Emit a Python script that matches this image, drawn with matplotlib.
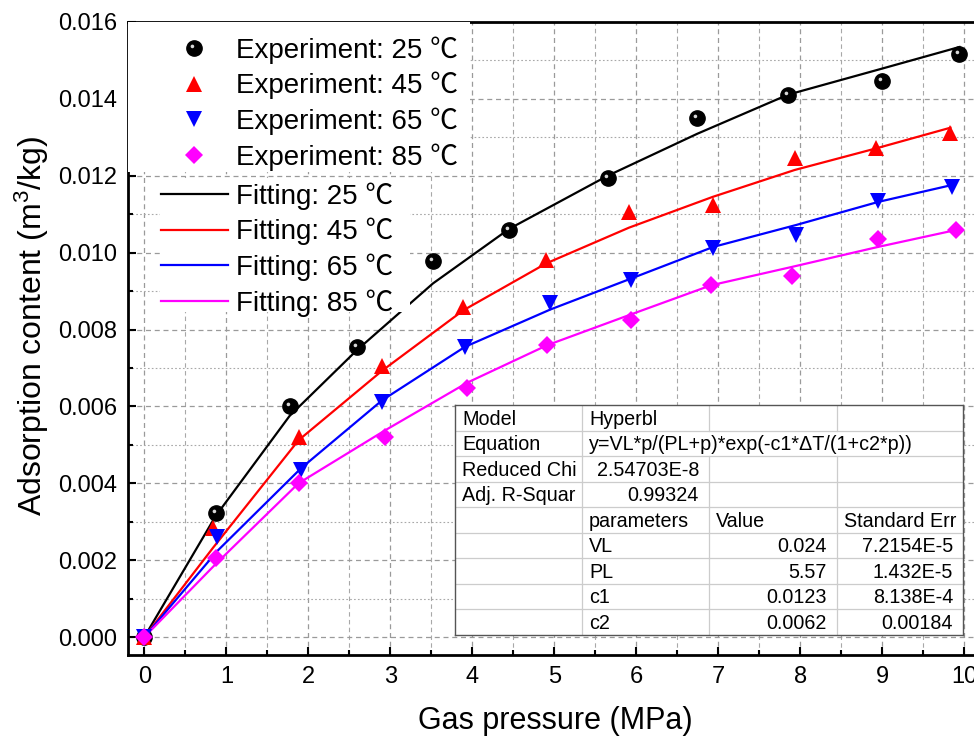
import matplotlib
matplotlib.use("Agg")
import matplotlib.pyplot as plt
import matplotlib.patches as mpatches
from matplotlib.lines import Line2D
from matplotlib.path import Path
from matplotlib.ticker import MultipleLocator, FormatStrFormatter
from matplotlib.legend_handler import HandlerTuple

plt.rcParams['font.family'] = ['Liberation Sans', 'Noto Sans CJK SC', 'DejaVu Sans']
plt.rcParams['mathtext.fontset'] = 'custom'
plt.rcParams['mathtext.rm'] = 'Liberation Sans'
plt.rcParams['mathtext.it'] = 'Liberation Sans:italic'

# experimental data (pressure in MPa, adsorption in m3/kg)
p25 = [0, 0.87, 1.77, 2.59, 3.52, 4.45, 5.65, 6.74, 7.85, 9.0, 9.94]
q25 = [0, 0.00322, 0.0060, 0.00755, 0.00978, 0.0106, 0.01194, 0.01351, 0.01411, 0.01446, 0.01518]
p45 = [0, 0.84, 1.88, 2.9, 3.89, 4.9, 5.91, 6.93, 7.93, 8.92, 9.83]
q45 = [0, 0.00283, 0.00521, 0.00705, 0.00859, 0.0098, 0.01106, 0.01124, 0.01245, 0.01271, 0.01311]
p65 = [0, 0.89, 1.91, 2.9, 3.91, 4.95, 5.94, 6.94, 7.95, 8.95, 9.85]
q65 = [0, 0.0026, 0.00434, 0.00612, 0.00755, 0.00868, 0.00928, 0.01012, 0.01046, 0.01135, 0.01171]
p85 = [0, 0.87, 1.88, 2.93, 3.94, 4.91, 5.93, 6.91, 7.9, 8.95, 9.9]
q85 = [0, 0.00205, 0.0040, 0.00521, 0.00649, 0.00759, 0.00826, 0.00915, 0.00939, 0.01035, 0.01059]

# fitted values at the same pressures
f25 = [0, 0.00315, 0.00575, 0.00746, 0.0092, 0.01062, 0.0120, 0.01309, 0.01411, 0.01479, 0.01535]
f45 = [0, 0.00233, 0.00512, 0.00693, 0.0085, 0.00972, 0.01065, 0.01145, 0.01215, 0.01271, 0.01325]
f65 = [0, 0.00224, 0.00439, 0.00616, 0.00755, 0.00852, 0.00933, 0.01015, 0.01072, 0.01132, 0.01176]
f85 = [0, 0.0019, 0.0040, 0.00537, 0.00662, 0.00759, 0.00839, 0.00915, 0.00963, 0.01015, 0.01059]

temps = ['25', '45', '65', '85']
colors = ['black', '#ff0000', '#0000ff', '#ff00ff']

# fit summary table
table_rows = [
    ['Model', 'Hyperbl', '', ''],
    ['Equation', 'y=VL*p/(PL+p)*exp(-c1*ΔT/(1+c2*p))', '', ''],
    ['Reduced Chi', '2.54703E-8', '', ''],
    ['Adj. R-Squar', '0.99324', '', ''],
    ['', 'parameters', 'Value', 'Standard Err'],
    ['', 'VL', '0.024', '7.2154E-5'],
    ['', 'PL', '5.57', '1.432E-5'],
    ['', 'c1', '0.0123', '8.138E-4'],
    ['', 'c2', '0.0062', '0.00184'],
]

W, H = 974, 744
fig = plt.figure(figsize=(W / 100, H / 100), dpi=100)
ax = fig.add_axes([128 / W, 89 / H, 861 / W, 633 / H])
ax.set_xlim(-0.2, 10.3)
ax.set_ylim(-0.000468, 0.016)

# grid
ax.xaxis.set_major_locator(MultipleLocator(1))
ax.xaxis.set_minor_locator(MultipleLocator(0.5))
ax.yaxis.set_major_locator(MultipleLocator(0.002))
ax.yaxis.set_minor_locator(MultipleLocator(0.001))
ax.yaxis.set_major_formatter(FormatStrFormatter('%.3f'))
ax.grid(which='major', color='#9a9a9a', ls=(0, (4, 3)), lw=0.9)
ax.xaxis.grid(which='minor', color='#a8a8a8', ls=(0, (4, 3)), lw=0.8)
ax.yaxis.grid(which='minor', color='#a8a8a8', ls=(0, (1.5, 2)), lw=0.8)
ax.set_axisbelow(True)

ax.tick_params(which='both', direction='in', width=1.5, top=False, right=False)
ax.tick_params(which='major', length=6, labelsize=17, pad=8)
ax.tick_params(which='minor', length=3.5)
for s in ax.spines.values():
    s.set_linewidth(2)
ax.spines['right'].set_visible(False)

# fitted lines
for f, p, c in zip([f25, f45, f65, f85], [p25, p45, p65, p85], colors):
    ax.plot(p, f, color=c, lw=1.6, zorder=2)

# experiment markers
highlight = Path.circle(center=(-1.5, 1.5), radius=1.3)
ax.plot(p25, q25, 'o', color='black', ms=11, zorder=3)
ax.plot(p25, q25, ls='none', marker=highlight, color='#d8d8d8', ms=5.6, mew=0, zorder=3)
ax.plot(p45, q45, '^', color=colors[1], ms=12, mew=0, zorder=3)
ax.plot(p65, q65, 'v', color=colors[2], ms=12, mew=0, zorder=3)
ax.plot(p85, q85, 'D', color=colors[3], ms=9.5, mew=0, zorder=3)

ax.set_xlabel('Gas pressure (MPa)', fontsize=22)
ax.xaxis.set_label_coords((555 - 128) / 861, -0.08)
ax.set_ylabel('Adsorption content (m$^3$/kg)', fontsize=23)
ax.yaxis.set_label_coords(-0.09, 0.52)

# white masks behind the two legends
for x0, y0, x1, y1 in [(128, 22, 470, 172), (160, 178, 410, 312)]:
    ax.add_patch(mpatches.Rectangle((x0 / W, 1 - y1 / H), (x1 - x0) / W, (y1 - y0) / H,
                                    transform=fig.transFigure, fc='white', ec='none', zorder=4))

ball = (Line2D([], [], ls='none', marker='o', color='black', ms=11),
        Line2D([], [], ls='none', marker=highlight, color='#d8d8d8', ms=5.6, mew=0))
exp_handles = [ball,
               Line2D([], [], ls='none', marker='^', color=colors[1], ms=12, mew=0),
               Line2D([], [], ls='none', marker='v', color=colors[2], ms=12, mew=0),
               Line2D([], [], ls='none', marker='D', color=colors[3], ms=9.5, mew=0)]
exp_labels = [f'Experiment: {t} ℃' for t in temps]
fit_handles = [Line2D([], [], color=c, lw=1.6) for c in colors]
fit_labels = [f'Fitting: {t} ℃' for t in temps]

leg_kw = dict(frameon=False, loc='upper left', borderpad=0, borderaxespad=0,
              handlelength=2.4, handletextpad=0.3, labelspacing=0.3, fontsize=20,
              bbox_transform=fig.transFigure)
leg1 = ax.legend(exp_handles, exp_labels, bbox_to_anchor=(161 / W, 1 - 36 / H),
                 handler_map={tuple: HandlerTuple(ndivide=1)}, **leg_kw)
leg1.set_zorder(5)
ax.add_artist(leg1)
leg2 = ax.legend(fit_handles, fit_labels, bbox_to_anchor=(161 / W, 1 - 182 / H), **leg_kw)
leg2.set_zorder(5)

# table
tx0, ty0, tx1, ty1 = 455, 405, 963, 635
tab = fig.add_axes([tx0 / W, 1 - ty1 / H, (tx1 - tx0) / W, (ty1 - ty0) / H])
tw, th = tx1 - tx0, ty1 - ty0
tab.set_xlim(0, tw)
tab.set_ylim(th, 0)
tab.set_xticks([])
tab.set_yticks([])
for s in tab.spines.values():
    s.set_color('#555555')
    s.set_linewidth(1)
cols = [0, 127, 254, 382, tw]
nrow = len(table_rows)
rh = th / nrow
for i in range(1, nrow):
    tab.plot([0, tw], [i * rh, i * rh], color='#cccccc', lw=0.9)
for j in range(1, 4):
    for i in range(nrow):
        if i == 1 and j > 1:
            continue
        tab.plot([cols[j], cols[j]], [i * rh, (i + 1) * rh], color='#cccccc', lw=0.9)

right_cells = {(2, 1), (3, 1)}
for i, row in enumerate(table_rows):
    for j, txt in enumerate(row):
        if not txt:
            continue
        yc = (i + 0.55) * rh
        right = (i, j) in right_cells or (i >= 5 and j >= 2)
        if right:
            tab.text(cols[j + 1] - 10, yc, txt, ha='right', va='center', fontsize=14.2)
        else:
            tab.text(cols[j] + 7, yc, txt, ha='left', va='center', fontsize=14.2)

fig.savefig('out.png', dpi=100)
